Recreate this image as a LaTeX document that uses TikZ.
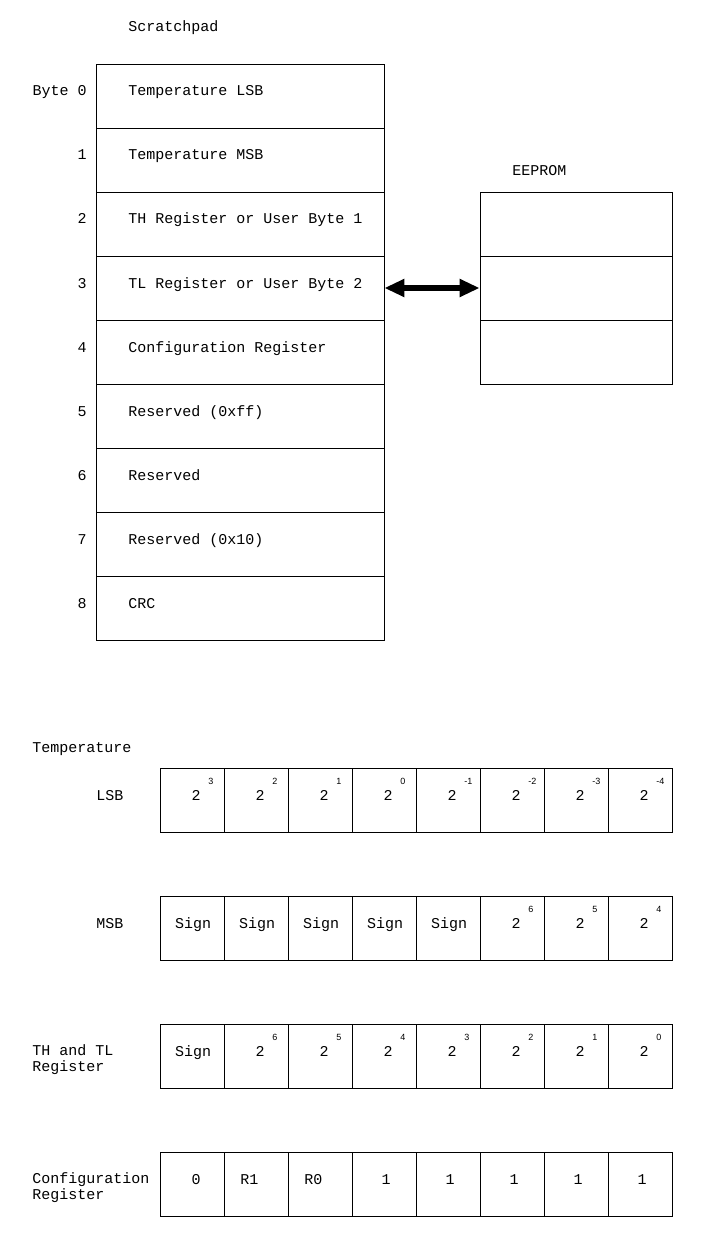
\documentclass[tikz,border=0pt]{standalone}
\usepackage{fontspec}
\setmainfont{Liberation Mono}
\newfontfamily\supfont{Liberation Sans}
\usetikzlibrary{arrows.meta}

\begin{document}
\begin{tikzpicture}[x=1pt,y=-1pt,line width=0.8pt,
    font=\fontsize{15}{16}\selectfont,
    byte/.style={draw,minimum width=288pt,minimum height=64pt,inner sep=0pt},
    cell/.style={draw,minimum width=64pt,minimum height=64pt,inner sep=0pt},
    txt/.style={anchor=base west,inner sep=0pt},
    num/.style={anchor=base east,inner sep=0pt},
    mid/.style={anchor=base,inner sep=0pt},
    pow/.style={anchor=base west,inner sep=0pt,font=\supfont\fontsize{9}{10}\selectfont}]
  \useasboundingbox (0,0) rectangle (705,1249);

  % scratchpad
  \node[txt] (sptitle) at (128,32) {Scratchpad};
  \foreach \t [count=\i from 0] in {{Temperature LSB},{Temperature MSB},
      {TH Register or User Byte 1},{TL Register or User Byte 2},
      {Configuration Register},{Reserved (0xff)},{Reserved},{Reserved (0x10)},{CRC}}
    {\node[byte] (sp\i) at (240,{96+64*\i}) {};
     \node[txt] (spt\i) at (128,{96+64*\i}) {\t};}
  \node[num] (b0) at (87,96) {Byte 0};
  \foreach \i in {1,...,8}
    \node[num] (b\i) at (87,{96+64*\i}) {\i};

  % eeprom
  \node[txt] (eetitle) at (512,176) {EEPROM};
  \foreach \i in {0,1,2}
    \node[cell,minimum width=192pt] (ee\i) at (576,{224+64*\i}) {};
  \draw[line width=6pt,{Triangle[length=20pt,width=17pt]}-{Triangle[length=20pt,width=17pt]}]
    (sp3.east) -- (ee1.west);

  % temperature
  \node[txt] (temp) at (32,752) {Temperature};
  \node[txt] (lsb) at (96,800) {LSB};
  \foreach \e [count=\i from 0] in {3,2,1,0,-1,-2,-3,-4}
    {\node[cell] (l\i) at ({192+64*\i},800) {};
     \node[mid] (lb\i) at ({196+64*\i},800) {2};
     \node[pow] (le\i) at ({208+64*\i},784) {\e};}

  \node[txt] (msb) at (96,928) {MSB};
  \foreach \i in {0,...,7}
    \node[cell] (m\i) at ({192+64*\i},928) {};
  \foreach \i in {0,...,4}
    \node[mid] (mt\i) at ({193+64*\i},928) {Sign};
  \foreach \e [count=\i from 5] in {6,5,4}
    {\node[mid] (mb\i) at ({196+64*\i},928) {2};
     \node[pow] (me\i) at ({208+64*\i},912) {\e};}

  % th and tl
  \node[anchor=west,inner sep=0pt,align=left] (thtl) at (32,1060) {TH and TL\\Register};
  \foreach \i in {0,...,7}
    \node[cell] (t\i) at ({192+64*\i},1056) {};
  \node[mid] (tt0) at (193,1056) {Sign};
  \foreach \e [count=\i from 1] in {6,5,4,3,2,1,0}
    {\node[mid] (tb\i) at ({196+64*\i},1056) {2};
     \node[pow] (te\i) at ({208+64*\i},1040) {\e};}

  % configuration
  \node[anchor=west,inner sep=0pt,align=left] (conf) at (32,1188) {Configuration\\Register};
  \foreach \i in {0,...,7}
    \node[cell] (c\i) at ({192+64*\i},1184) {};
  \node[mid] (ct0) at (196,1184) {0};
  \node[txt] (ct1) at (240,1184) {R1};
  \node[txt] (ct2) at (304,1184) {R0};
  \foreach \i in {3,...,7}
    \node[mid] (ct\i) at ({194+64*\i},1184) {1};
\end{tikzpicture}
\end{document}
